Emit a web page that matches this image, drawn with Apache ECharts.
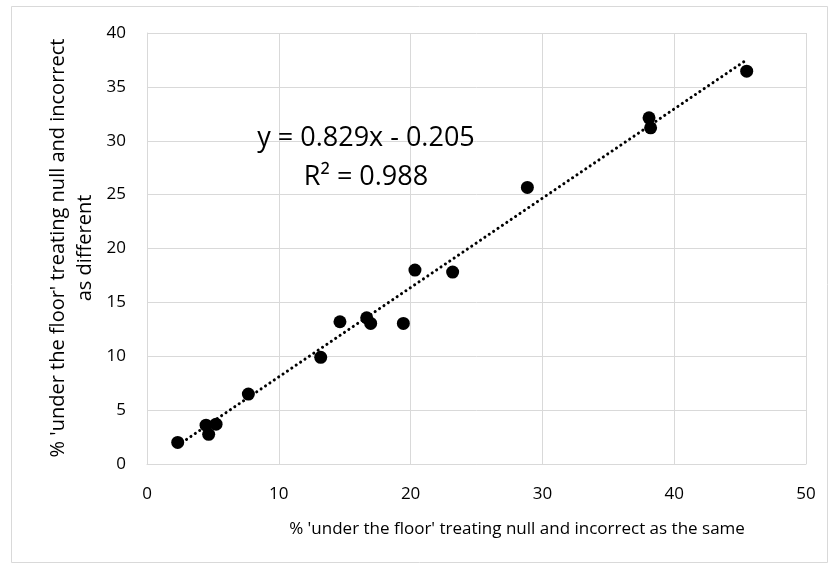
<!DOCTYPE html>
<html>
<head>
<meta charset="utf-8">
<script src="https://cdn.jsdelivr.net/npm/echarts@6/dist/echarts.min.js"></script>
<style>html,body{margin:0;padding:0;background:#fff}#c{width:829px;height:564px}</style>
</head>
<body>
<div id="c"></div>
<script>
// Data
const xValues = [2.33, 4.48, 4.68, 5.24, 7.69, 13.18, 14.64, 16.67, 16.97, 19.45, 20.33, 23.19, 28.86, 38.09, 38.21, 45.5];
const yValues = [2.0, 3.6, 2.75, 3.7, 6.49, 9.9, 13.2, 13.57, 13.05, 13.05, 18.0, 17.81, 25.67, 32.13, 31.2, 36.46];
const xTicks = [0, 10, 20, 30, 40, 50];
const yTicks = [0, 5, 10, 15, 20, 25, 30, 35, 40];
const slope = 0.829, intercept = -0.205;
const eqText = 'y = 0.829x - 0.205';
const r2Text = 'R² = 0.988';
const xTitle = "% 'under the floor' treating null and incorrect as the same";
const yTitle1 = "% 'under the floor' treating null and incorrect";
const yTitle2 = "as different";

const points = xValues.map((x, i) => [x, yValues[i]]);
const xMin = Math.min(...xValues), xMax = Math.max(...xValues);
const trend = [[xMin, slope * xMin + intercept], [xMax, slope * xMax + intercept]];

const FONT = 'Open Sans';
const chart = echarts.init(document.getElementById('c'), null, {renderer: 'canvas'});
chart.setOption({
  animation: false,
  backgroundColor: '#fff',
  grid: {left: 147, right: 23, top: 33, bottom: 100, containLabel: false},
  xAxis: {
    type: 'value', min: xTicks[0], max: xTicks[xTicks.length - 1], interval: 10,
    axisLine: {show: true, lineStyle: {color: '#d9d9d9', width: 1}},
    axisTick: {show: false},
    axisLabel: {color: '#000', fontSize: 17, fontFamily: FONT, margin: 22},
    splitLine: {show: true, lineStyle: {color: '#d9d9d9', width: 1}}
  },
  yAxis: {
    type: 'value', min: yTicks[0], max: yTicks[yTicks.length - 1], interval: 5,
    axisLine: {show: true, lineStyle: {color: '#d9d9d9', width: 1}},
    axisTick: {show: false},
    axisLabel: {color: '#000', fontSize: 17, fontFamily: FONT, margin: 21},
    splitLine: {show: true, lineStyle: {color: '#d9d9d9', width: 1}}
  },
  graphic: [
    {type: 'rect', shape: {x: 11.5, y: 6.5, width: 816, height: 556}, style: {fill: 'none', stroke: '#d9d9d9', lineWidth: 1}, silent: true, z: -10},
    {type: 'text', x: 517, y: 529, style: {text: xTitle, fontSize: 17, fontFamily: FONT, fill: '#000', align: 'center', verticalAlign: 'middle'}},
    {type: 'text', x: 58, y: 248, rotation: Math.PI / 2, style: {text: yTitle1, fontSize: 20, fontFamily: FONT, fill: '#000', align: 'center', verticalAlign: 'middle'}},
    {type: 'text', x: 85, y: 248, rotation: Math.PI / 2, style: {text: yTitle2, fontSize: 20, fontFamily: FONT, fill: '#000', align: 'center', verticalAlign: 'middle'}},
    {type: 'text', x: 366, y: 138, z: 10, style: {text: eqText, fontSize: 27, fontFamily: FONT, fill: '#000', align: 'center', verticalAlign: 'middle'}},
    {type: 'text', x: 366, y: 177, z: 10, style: {text: r2Text, fontSize: 27, fontFamily: FONT, fill: '#000', align: 'center', verticalAlign: 'middle'}}
  ],
  series: [
    {
      type: 'line', data: trend, symbol: 'none', silent: true, z: 2,
      lineStyle: {color: '#000', width: 3, type: [0.1, 5.2], cap: 'round'}
    },
    {
      type: 'scatter', data: points, symbol: 'circle', symbolSize: 13, z: 3,
      itemStyle: {color: '#000', opacity: 1}
    }
  ]
});
</script>
</body>
</html>
